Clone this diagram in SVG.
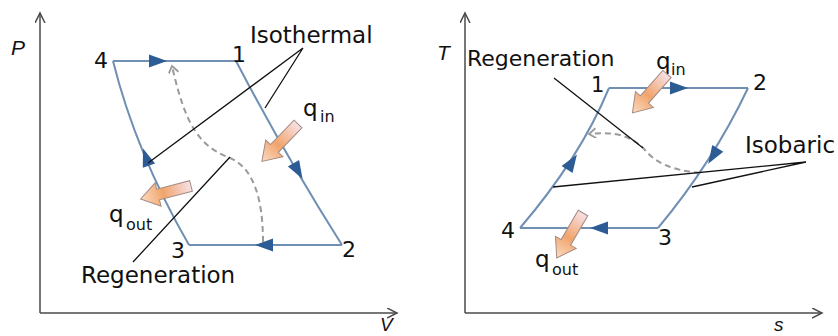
<svg xmlns="http://www.w3.org/2000/svg" xmlns:xlink="http://www.w3.org/1999/xlink" width="838" height="336" viewBox="0 0 838 336">
<style>
.ax{fill:none;stroke:#4a4a4a;stroke-width:1.5}
.cy{fill:none;stroke:#6f8fb3;stroke-width:2}
.dash{fill:none;stroke:#9a9a9a;stroke-width:2;stroke-dasharray:6 4}
.lead{fill:none;stroke:#111;stroke-width:1.3}
.tri{fill:#2d5c94}
.blk{fill:url(#g);stroke:#a48a80;stroke-width:1}
text{font-family:"DejaVu Sans","Liberation Sans",sans-serif;fill:#111}
.lbl{font-size:23px}
.num{font-size:22px}
.q{font-size:23px}
.sub{font-size:16px}
.axl{font-family:"Liberation Sans",Arial,sans-serif;font-style:italic;font-size:21px}
</style>
<defs>
<marker id="axa" markerWidth="12" markerHeight="12" refX="10" refY="5" orient="auto" markerUnits="userSpaceOnUse">
<path d="M0,0 L10,5 L0,10" fill="none" stroke="#4a4a4a" stroke-width="1.5"/>
</marker>
<marker id="da" markerWidth="12" markerHeight="12" refX="8" refY="5" orient="auto" markerUnits="userSpaceOnUse">
<path d="M1,0 L8,5 L1,10" fill="none" stroke="#9a9a9a" stroke-width="1.8"/>
</marker>
<linearGradient id="g" x1="0" y1="0" x2="1" y2="0">
<stop offset="0" stop-color="#f7e1e6"/>
<stop offset="0.55" stop-color="#f1a46c"/>
<stop offset="1" stop-color="#fbdcc2"/>
</linearGradient>
<path id="t" class="tri" d="M-9,-6.5 L9,0 L-9,6.5 Z"/>
<path id="b" class="blk" d="M0,-5.5 L34,-5.5 L34,-12 L52,0 L34,12 L34,5.5 L0,5.5 Z"/>
</defs>

<g id="pv-axes">
<path class="ax" d="M40,313 L40,13" marker-end="url(#axa)"/>
<path class="ax" d="M40,313 L397,313" marker-end="url(#axa)"/>
<text class="axl" x="11" y="55">P</text>
<text class="axl" x="380" y="331" style="font-size:19px">V</text>
</g>

<g id="pv-connectors">
<path class="cy" d="M113,61 L236,61"/>
<path class="cy" d="M236,61 Q285,155 342,245"/>
<path class="cy" d="M342,245 L189,245"/>
<path class="cy" d="M189,245 Q136,153 113,61"/>
<use xlink:href="#t" transform="translate(158,61)"/>
<use xlink:href="#t" transform="translate(298,171) rotate(60)"/>
<use xlink:href="#t" transform="translate(264,245) rotate(180)"/>
<use xlink:href="#t" transform="translate(146,157) rotate(-109)"/>
<path class="dash" d="M263,242 C263,200 254,168 230,158 C200,146 186,128 172,66" marker-end="url(#da)"/>
<path class="lead" d="M303,48 L148,163 M303,48 L265,108 M133,262 L230,157"/>
</g>

<g id="pv-node-4"><text class="num" x="94" y="68">4</text></g>
<g id="pv-node-1"><text class="num" x="232" y="62">1</text></g>
<g id="pv-node-2"><text class="num" x="342" y="257">2</text></g>
<g id="pv-node-3"><text class="num" x="171" y="258">3</text></g>
<g id="pv-isothermal"><text class="lbl" x="250" y="43">Isothermal</text></g>
<g id="pv-regeneration"><text class="lbl" x="81" y="283">Regeneration</text></g>
<g id="pv-qin">
<text class="q" x="303" y="116">q</text><text class="sub" x="320" y="122">in</text>
<use xlink:href="#b" transform="translate(298,124) rotate(134)"/>
</g>
<g id="pv-qout">
<text class="q" x="109" y="222">q</text><text class="sub" x="126" y="230">out</text>
<use xlink:href="#b" transform="translate(191,186) rotate(165.5)"/>
</g>

<g id="ts-axes">
<path class="ax" d="M465,313 L465,13" marker-end="url(#axa)"/>
<path class="ax" d="M465,313 L822,313" marker-end="url(#axa)"/>
<text class="axl" x="437" y="60">T</text>
<text class="axl" x="774" y="331" style="font-size:19px">s</text>
</g>

<g id="ts-connectors">
<path class="cy" d="M609,88 L748,88"/>
<path class="cy" d="M748,88 Q713,162 658,228"/>
<path class="cy" d="M658,228 L520,228"/>
<path class="cy" d="M520,228 Q580,158 609,88"/>
<use xlink:href="#t" transform="translate(679,88)"/>
<use xlink:href="#t" transform="translate(713,156) rotate(122)"/>
<use xlink:href="#t" transform="translate(599,228) rotate(180)"/>
<use xlink:href="#t" transform="translate(572,162) rotate(-57)"/>
<path class="dash" d="M700,173 C670,170 655,162 645,150 C632,136 615,131 589,134" marker-end="url(#da)"/>
<path class="lead" d="M554,78 L643,148 M806,162 L553,187 M806,162 L692,187"/>
</g>

<g id="ts-node-1"><text class="num" x="591" y="92" style="font-size:21px">1</text></g>
<g id="ts-node-2"><text class="num" x="753" y="90">2</text></g>
<g id="ts-node-3"><text class="num" x="658" y="245">3</text></g>
<g id="ts-node-4"><text class="num" x="501" y="238">4</text></g>
<g id="ts-regeneration"><text class="lbl" x="467" y="66" style="font-size:22px">Regeneration</text></g>
<g id="ts-isobaric"><text class="lbl" x="745" y="153">Isobaric</text></g>
<g id="ts-qin">
<text class="q" x="656" y="69">q</text><text class="sub" x="671" y="75">in</text>
<use xlink:href="#b" transform="translate(667,74) rotate(131.6)"/>
</g>
<g id="ts-qout">
<text class="q" x="535" y="267">q</text><text class="sub" x="552" y="275">out</text>
<use xlink:href="#b" transform="translate(583,213) rotate(120.3)"/>
</g>
</svg>
